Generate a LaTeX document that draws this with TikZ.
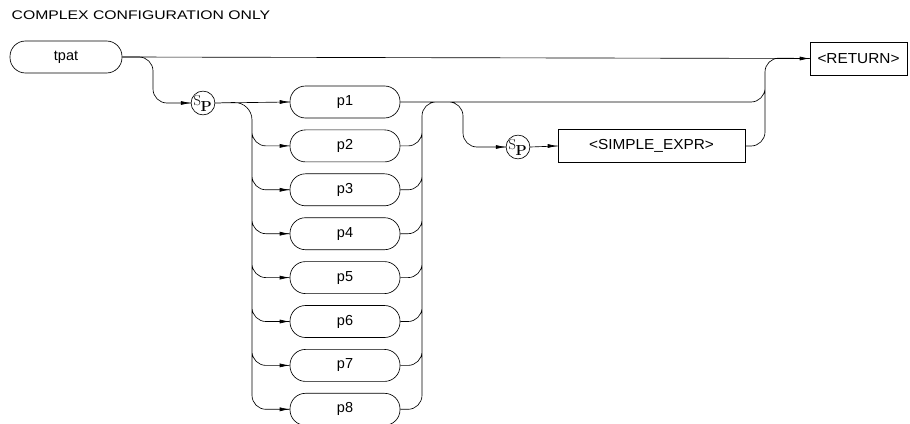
\documentclass[tikz,border=0pt]{standalone}
\usepackage{fontspec}
\setmainfont{Liberation Sans}
\newfontfamily\lmserif{Latin Modern Roman}
\usetikzlibrary{arrows.meta}
\begin{document}
\begin{tikzpicture}[x=1pt,y=-1pt,line width=0.65pt,
  lbl/.style={font=\fontsize{14.5}{16}\selectfont},
  pill/.style={draw,lbl,rounded corners=15.5pt,minimum width=110pt,minimum height=32pt,inner sep=0pt},
  sqbox/.style={draw,lbl,minimum height=33pt,inner sep=0pt},
  spc/.style={draw,circle,minimum size=23pt,inner sep=0pt},
  arr/.style={-{Latex[length=10pt,width=4pt]}},
  rc/.style={rounded corners=14pt}]
\useasboundingbox (0,0) rectangle (910,423);
\newcommand{\spsym}{\fontsize{14.5}{14.5}\selectfont\lmserif\hspace{-0.5pt}\raisebox{2.5pt}{S}\hspace{-0.5pt}\raisebox{-3.5pt}{\bfseries P}}
\newcommand{\widetxt}[1]{\scalebox{1.06}[1]{#1}}

\node[lbl,anchor=west,font=\fontsize{12.5}{14}\selectfont] (title) at (8,15) {\scalebox{1.26}[1]{COMPLEX CONFIGURATION ONLY}};

\node[pill,minimum width=112pt] (tpat) at (66,57) {tpat};
\node[sqbox,minimum width=97pt] (ret) at (858.5,58.5) {\widetxt{<RETURN>}};
\node[spc] (sp1) at (203,103) {\spsym};
\node[spc] (sp2) at (518,147) {\spsym};
\node[sqbox,minimum width=187pt] (se) at (651.5,146) {\widetxt{<SIMPLE\_EXPR>}};

\foreach \k in {1,...,8}{
  \node[pill] (p\k) at (345,{102+(\k-1)*43.9}) {p\k};
}

\coordinate (lb) at (252,102);
\coordinate (rb) at (422,102);
\coordinate (hump) at (463,102);
\coordinate (rr) at (765,102);
\coordinate (rt) at (765,58);

% main line
\draw (tpat.east) -- (ret.west);
% branch to Sp
\draw[rc] (tpat.east) -- (153,57) -- (153,103) -- (sp1.west);
% left bus with rows (single stroke)
\draw[rc] (sp1.east) -- (p1.west)
  (sp1.east) [rounded corners=18pt] -- (lb) [rounded corners=14pt] -- (lb |- p8.west) -- (p8.west)
  \foreach \k in {2,...,7}{ ([yshift=20pt]lb |- p\k.west) -- (lb |- p\k.west) -- (p\k.west) };
% right bus, p1 line, hump, return (single stroke)
\draw[rc] (p8.east) -- (rb |- p8.east) -- (rb) -- (rr) -- (rt) -- (ret.west)
  \foreach \k in {2,...,7}{ (p\k.east) -- (rb |- p\k.east) -- ([yshift=20pt]rb |- p\k.east) }
  (p1.east) -- (hump) -- (hump |- sp2.west) -- (sp2.west)
  (sp2.east) -- (se.west)
  (se.east) -- (rr |- se.east) -- (rt) -- (ret.west);
% arrowheads
\foreach \k in {1,...,8}{ \draw[arr] ([xshift=-8pt]p\k.west) -- (p\k.west); }
\draw[arr] ([xshift=-8pt]sp1.west) -- (sp1.west);
\draw[arr] ([xshift=-8pt]sp2.west) -- (sp2.west);
\draw[arr] ([xshift=-8pt]se.west) -- (se.west);
\draw[arr] ([xshift=-8pt]ret.west) -- (ret.west);
\end{tikzpicture}
\end{document}
